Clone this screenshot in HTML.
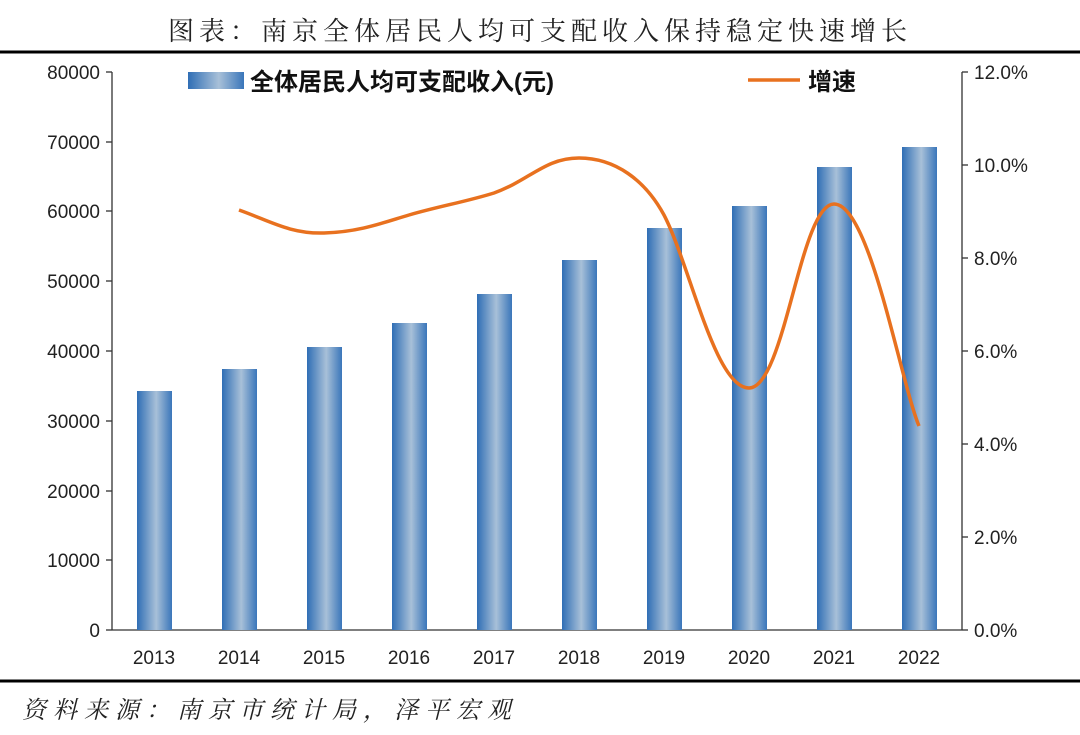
<!DOCTYPE html>
<html><head><meta charset="utf-8"><style>
body{margin:0;background:#fff;}
svg text{font-family:"Liberation Sans","Noto Sans CJK SC",sans-serif;}
</style></head><body>
<svg width="1080" height="730" xmlns="http://www.w3.org/2000/svg">
<defs>
<linearGradient id="g" x1="0" x2="1" y1="0" y2="0">
<stop offset="0" stop-color="#2f6eb5"/>
<stop offset="0.55" stop-color="#a8c0d8"/>
<stop offset="1" stop-color="#3a76ba"/>
</linearGradient>
</defs>
<text x="540" y="40" font-size="26" text-anchor="middle" fill="#222" letter-spacing="5" style="font-family:'Liberation Serif','Noto Serif CJK SC',serif">图表：南京全体居民人均可支配收入保持稳定快速增长</text>
<line x1="0" y1="52" x2="1080" y2="52" stroke="#000" stroke-width="3"/>
<g stroke="#333" stroke-width="1.3">
<line x1="112" y1="72" x2="112" y2="630"/>
<line x1="962" y1="72" x2="962" y2="630"/>
<line x1="112" y1="630" x2="962" y2="630"/>
</g>
<g stroke="#333" stroke-width="1.3">
<line x1="106" y1="72" x2="112" y2="72"/><line x1="106" y1="142" x2="112" y2="142"/><line x1="106" y1="211" x2="112" y2="211"/><line x1="106" y1="281" x2="112" y2="281"/><line x1="106" y1="351" x2="112" y2="351"/><line x1="106" y1="421" x2="112" y2="421"/><line x1="106" y1="491" x2="112" y2="491"/><line x1="106" y1="560" x2="112" y2="560"/><line x1="106" y1="630" x2="112" y2="630"/>
<line x1="962" y1="72" x2="968" y2="72"/><line x1="962" y1="165" x2="968" y2="165"/><line x1="962" y1="258" x2="968" y2="258"/><line x1="962" y1="351" x2="968" y2="351"/><line x1="962" y1="444" x2="968" y2="444"/><line x1="962" y1="537" x2="968" y2="537"/><line x1="962" y1="630" x2="968" y2="630"/>
</g>
<g font-size="19" fill="#222" text-anchor="end">
<text x="100" y="79">80000</text><text x="100" y="149">70000</text><text x="100" y="218">60000</text><text x="100" y="288">50000</text><text x="100" y="358">40000</text><text x="100" y="428">30000</text><text x="100" y="498">20000</text><text x="100" y="567">10000</text><text x="100" y="637">0</text>
</g>
<g font-size="19" fill="#222">
<text x="974" y="79">12.0%</text><text x="974" y="172">10.0%</text><text x="974" y="265">8.0%</text><text x="974" y="358">6.0%</text><text x="974" y="451">4.0%</text><text x="974" y="544">2.0%</text><text x="974" y="637">0.0%</text>
</g>
<g fill="url(#g)">
<rect x="137" y="391" width="35" height="239"/>
<rect x="222" y="369" width="35" height="261"/>
<rect x="307" y="347" width="35" height="283"/>
<rect x="392" y="323" width="35" height="307"/>
<rect x="477" y="294" width="35" height="336"/>
<rect x="562" y="260" width="35" height="370"/>
<rect x="647" y="228" width="35" height="402"/>
<rect x="732" y="206" width="35" height="424"/>
<rect x="817" y="167" width="35" height="463"/>
<rect x="902" y="147" width="35" height="483"/>
</g>
<g font-size="19" fill="#222" text-anchor="middle">
<text x="154" y="664">2013</text><text x="239" y="664">2014</text><text x="324" y="664">2015</text><text x="409" y="664">2016</text><text x="494" y="664">2017</text><text x="579" y="664">2018</text><text x="664" y="664">2019</text><text x="749" y="664">2020</text><text x="834" y="664">2021</text><text x="919" y="664">2022</text>
</g>
<path d="M239,210 C270,221 290,234 324,233 C360,232 385,222 409,215 C440,206 465,202 494,193 C530,180 545,158 579,158 C615,158 645,180 664,215 C690,265 715,388 749,388 C785,388 800,204 834,204 C870,204 900,380 919,426" fill="none" stroke="#e8711f" stroke-width="3.5"/>
<rect x="188" y="72" width="56" height="17" fill="url(#g)"/>
<text x="250" y="90" font-size="24" font-weight="bold" fill="#111">全体居民人均可支配收入(元)</text>
<line x1="748" y1="80" x2="800" y2="80" stroke="#e8711f" stroke-width="3.5"/>
<text x="808" y="90" font-size="24" font-weight="bold" fill="#111">增速</text>
<line x1="0" y1="681" x2="1080" y2="681" stroke="#000" stroke-width="3"/>
<text x="22" y="718" font-size="24" font-style="italic" fill="#222" letter-spacing="7" style="font-family:'Liberation Serif','Noto Serif CJK SC',serif">资料来源：南京市统计局，泽平宏观</text>
</svg>
</body></html>
